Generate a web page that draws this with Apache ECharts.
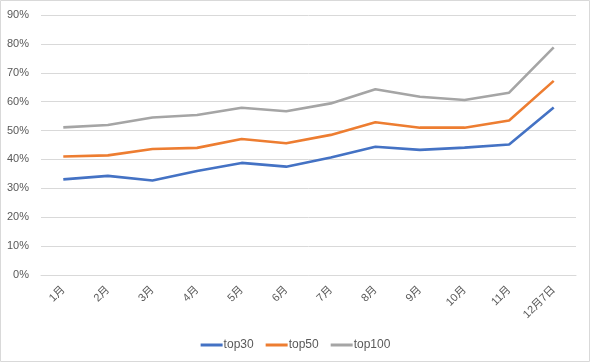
<!DOCTYPE html>
<html><head><meta charset="utf-8">
<script src="https://cdn.jsdelivr.net/npm/echarts@6/dist/echarts.min.js"></script>
<style>html,body{margin:0;padding:0;background:#fff}#c{width:591px;height:364px}</style>
</head><body><div id="c"></div>
<script>
const categories = ['1月','2月','3月','4月','5月','6月','7月','8月','9月','10月','11月','12月7日'];
const top30 = [33.1, 34.3, 32.7, 36.0, 38.8, 37.5, 40.7, 44.4, 43.3, 44.1, 45.2, 58.0];
const top50 = [41.0, 41.4, 43.6, 44.0, 47.1, 45.6, 48.5, 52.9, 51.0, 51.0, 53.5, 67.2];
const top100 = [51.1, 51.9, 54.5, 55.4, 57.9, 56.7, 59.4, 64.3, 61.7, 60.6, 63.1, 78.8];
const FONT = "'Liberation Sans','Noto Sans CJK SC',sans-serif";
const chart = echarts.init(document.getElementById('c'));
const mk = (name, data, color) => ({
  name, type: 'line', data, symbol: 'none', smooth: false,
  lineStyle: {color, width: 2.6}, itemStyle: {color}
});
chart.setOption({
  animation: false,
  textStyle: {fontFamily: FONT},
  graphic: [{type: 'rect', shape: {x: 0.5, y: 0.5, width: 589, height: 361},
    style: {fill: 'none', stroke: '#d9d9d9', lineWidth: 1}, silent: true}],
  grid: {left: 41, right: 15, top: 15, bottom: 89, containLabel: false},
  xAxis: {type: 'category', data: categories, boundaryGap: true,
    axisLine: {show: true, lineStyle: {color: '#d9d9d9'}}, axisTick: {show: false},
    axisLabel: {rotate: 45, color: '#595959', fontSize: 11, margin: 13, fontFamily: FONT, interval: 0}},
  yAxis: {type: 'value', min: 0, max: 90, interval: 10,
    axisLine: {show: false}, axisTick: {show: false},
    splitLine: {lineStyle: {color: '#d9d9d9', width: 1}},
    axisLabel: {formatter: '{value}%', color: '#595959', fontSize: 11, margin: 12, fontFamily: FONT}},
  legend: {bottom: 8, left: 'center', icon: 'rect', itemWidth: 22, itemHeight: 3, itemGap: 12,
    textStyle: {color: '#595959', fontSize: 12, fontFamily: FONT, padding: [0, 0, 0, -4]},
    data: ['top30', 'top50', 'top100']},
  series: [mk('top30', top30, '#4472C4'), mk('top50', top50, '#ED7D31'), mk('top100', top100, '#A5A5A5')]
});
</script></body></html>
